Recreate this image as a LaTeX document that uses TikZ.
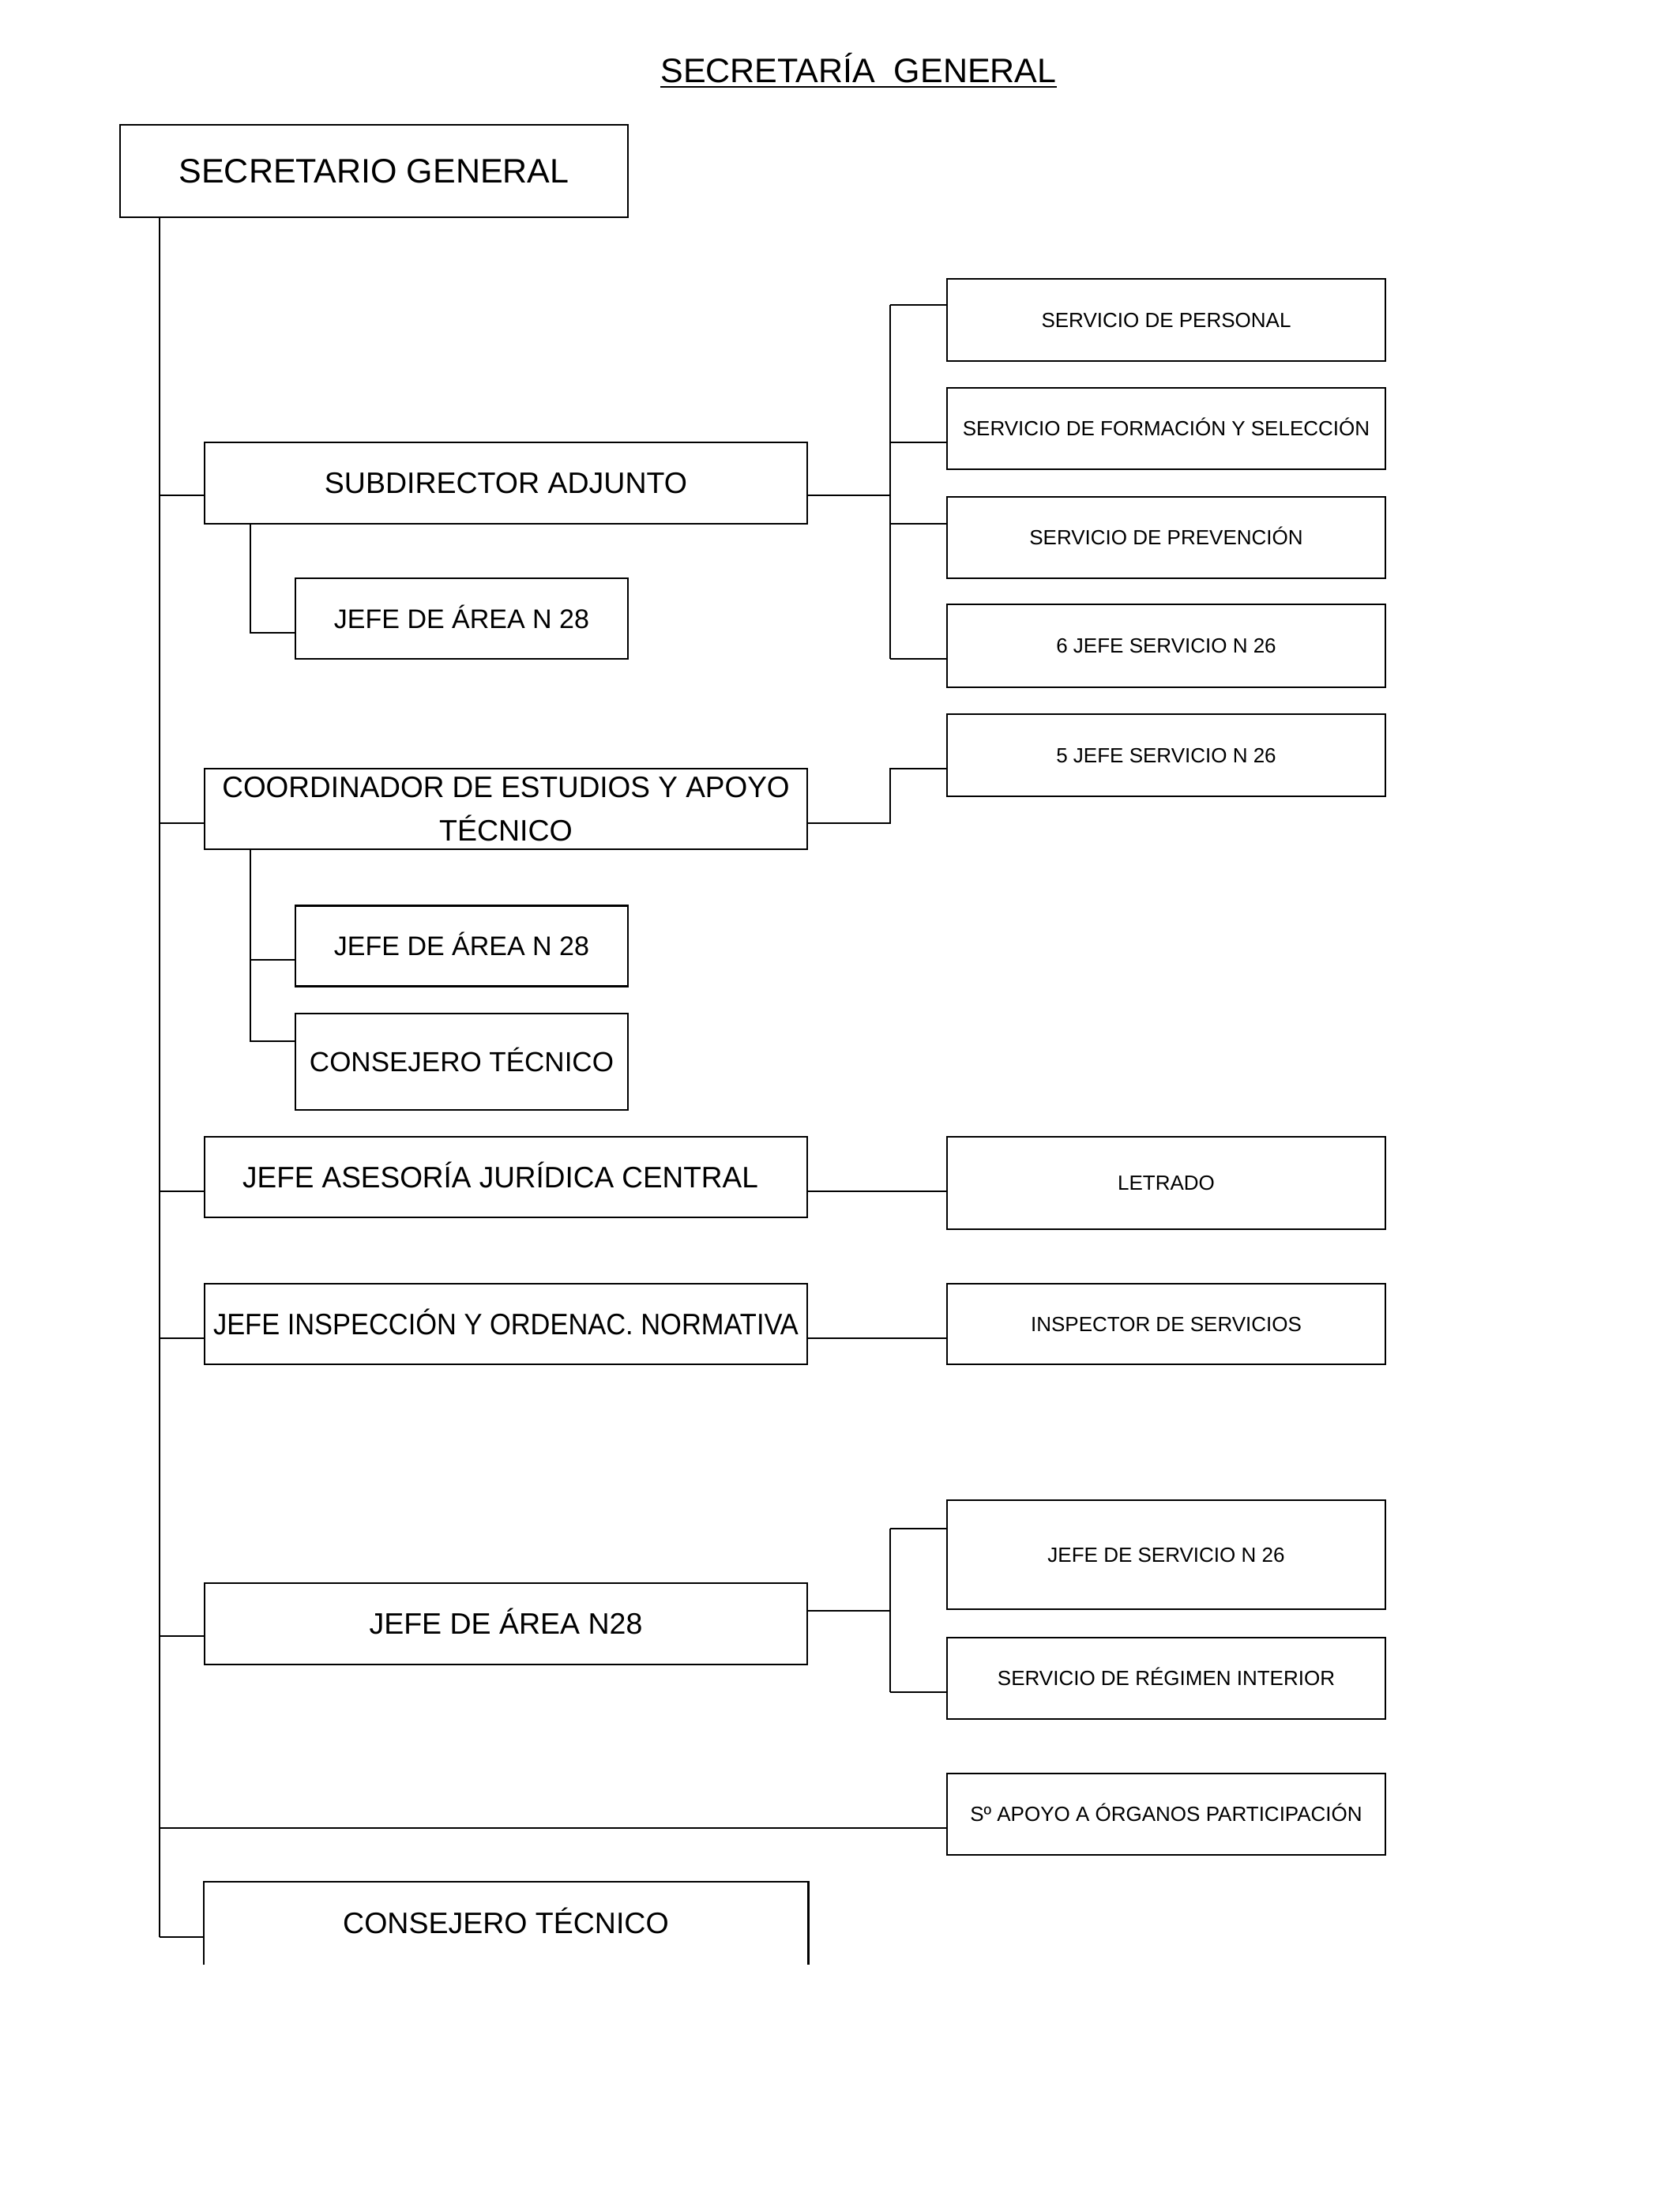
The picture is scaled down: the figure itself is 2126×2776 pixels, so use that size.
\documentclass[tikz,border=0pt]{standalone}
\usepackage{fontspec}
\setmainfont{Liberation Sans}
\begin{document}
\begin{tikzpicture}[x=1pt,y=-1pt,
  conn/.style={line width=2.2pt},
  box/.style={draw, line width=2.5pt, inner sep=0pt, text depth=0pt, align=center},
  lone/.style={box, font=\fontsize{37.5}{45}\selectfont, text height=26.9pt, minimum width=763pt, minimum height=103pt},
  ltwo/.style={box, font=\fontsize{34}{40}\selectfont, text height=24.3pt, minimum width=421pt, minimum height=102pt},
  rbox/.style={box, font=\fontsize{26}{31}\selectfont, text height=18.6pt, minimum width=555pt, minimum height=103pt}]
\useasboundingbox (0,0) rectangle (2126,2776);
% title
\node[font=\fontsize{43}{50}\selectfont, text height=30.8pt, text depth=0pt, inner sep=0pt] (title) at (1087,89) {SECRETARÍA\ \ GENERAL};
\draw[line width=1.6pt] (title.west |- 0,110) -- (title.east |- 0,110);
% boxes
\node[box, font=\fontsize{43}{50}\selectfont, text height=30.8pt, minimum width=643pt, minimum height=117pt] (sg) at (473.5,216.5) {SECRETARIO GENERAL};
\node[lone] (sub) at (640.5,611.5) {SUBDIRECTOR ADJUNTO};
\node[ltwo] (ja) at (584.5,783) {JEFE DE ÁREA N 28};
\node[rbox, minimum height=104pt] (sp) at (1476.5,405) {SERVICIO DE PERSONAL};
\node[rbox] (sf) at (1476.5,542.5) {SERVICIO DE FORMACIÓN Y SELECCIÓN};
\node[rbox] (spv) at (1476.5,680.5) {SERVICIO DE PREVENCIÓN};
\node[rbox, minimum height=105pt] (jsix) at (1476.5,817.5) {6 JEFE SERVICIO N 26};
\node[rbox, minimum height=104pt] (jfive) at (1476.5,956) {5 JEFE SERVICIO N 26};
\node[draw, line width=2.5pt, minimum width=763pt, minimum height=102pt, inner sep=0pt] (coord) at (640.5,1024) {};
\node[font=\fontsize{37.5}{55}\selectfont, align=center, inner sep=0pt] (coordt) at (coord.center) {\scalebox{0.985}[1]{COORDINADOR DE ESTUDIOS Y APOYO}\\TÉCNICO};
\node[ltwo] (jb) at (584.5,1197.5) {JEFE DE ÁREA N 28};
\node[ltwo, font=\fontsize{35}{42}\selectfont, text height=25.1pt, minimum height=122pt] (cts) at (584.5,1344) {CONSEJERO TÉCNICO};
\node[lone, minimum height=102pt] (ases) at (640.5,1490) {\scalebox{0.985}[1]{JEFE ASESORÍA JURÍDICA CENTRAL}\hspace*{14pt}};
\node[rbox, minimum height=117pt] (let) at (1476.5,1497.5) {LETRADO};
\node[lone, minimum height=102pt] (insp) at (640.5,1676) {\scalebox{0.918}[1]{JEFE INSPECCIÓN Y ORDENAC. NORMATIVA}};
\node[rbox, minimum height=102pt] (inspr) at (1476.5,1676) {INSPECTOR DE SERVICIOS};
\node[lone] (jan) at (640.5,2055.5) {JEFE DE ÁREA N28};
\node[rbox, minimum height=138pt] (jsn) at (1476.5,1968) {JEFE DE SERVICIO N 26};
\node[rbox] (reg) at (1476.5,2124.5) {SERVICIO DE RÉGIMEN INTERIOR};
\node[rbox] (apo) at (1476.5,2296.5) {Sº APOYO A ÓRGANOS PARTICIPACIÓN};
\node[lone, draw=none] (ctb) at (640.5,2434.5) {CONSEJERO TÉCNICO};
\draw[line width=2.5pt] (ctb.south west) -- (ctb.north west) -- (ctb.north east) -- (ctb.south east);
% connectors
\coordinate (trunk) at (202,2452);
\coordinate (subtr) at (317,0);
\coordinate (bus) at (1127,0);
\draw[conn] (sg.south -| trunk) -- (trunk);
\draw[conn] (trunk |- 0,627) -- (sub.west |- 0,627);
\draw[conn] (trunk |- 0,1042) -- (coord.west |- 0,1042);
\draw[conn] (trunk |- 0,1508) -- (ases.west |- 0,1508);
\draw[conn] (trunk |- 0,1694) -- (insp.west |- 0,1694);
\draw[conn] (trunk |- 0,2071) -- (jan.west |- 0,2071);
\draw[conn] (trunk |- 0,2314) -- (apo.west |- 0,2314);
\draw[conn] (trunk) -- (ctb.west |- trunk);
% subdirector
\draw[conn] (sub.south -| subtr) -- (subtr |- 0,801) -- (ja.west |- 0,801);
\draw[conn] (sub.east |- 0,627) -- (bus |- 0,627);
\draw[conn] (bus |- 0,386) -- (bus |- 0,834);
\draw[conn] (bus |- 0,386) -- (sp.west |- 0,386);
\draw[conn] (bus |- 0,560) -- (sf.west |- 0,560);
\draw[conn] (bus |- 0,663) -- (spv.west |- 0,663);
\draw[conn] (bus |- 0,834) -- (jsix.west |- 0,834);
% coordinador
\draw[conn] (coord.east |- 0,1042) -- (bus |- 0,1042) -- (bus |- 0,973) -- (jfive.west |- 0,973);
\draw[conn] (coord.south -| subtr) -- (subtr |- 0,1318) -- (cts.west |- 0,1318);
\draw[conn] (subtr |- 0,1215) -- (jb.west |- 0,1215);
% asesoria, inspeccion
\draw[conn] (ases.east |- 0,1508) -- (let.west |- 0,1508);
\draw[conn] (insp.east |- 0,1694) -- (inspr.west |- 0,1694);
% jefe area n28
\draw[conn] (jan.east |- 0,2039) -- (bus |- 0,2039);
\draw[conn] (bus |- 0,1935) -- (bus |- 0,2142);
\draw[conn] (bus |- 0,1935) -- (jsn.west |- 0,1935);
\draw[conn] (bus |- 0,2142) -- (reg.west |- 0,2142);
\end{tikzpicture}
\end{document}
